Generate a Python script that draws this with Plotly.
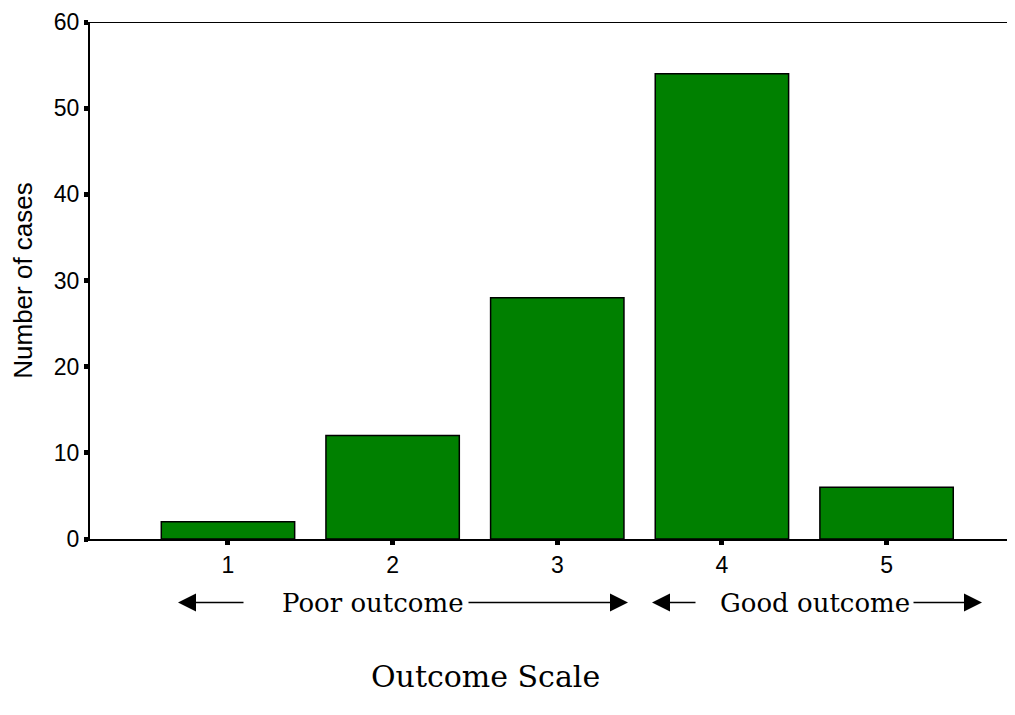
import plotly.graph_objects as go

categories = [1, 2, 3, 4, 5]
cases = [2, 12, 28, 54, 6]
y_ticks = [0, 10, 20, 30, 40, 50, 60]

serif = "Century Schoolbook, DejaVu Serif, serif"
sans = "Arial, Liberation Sans, sans-serif"

fig = go.Figure(go.Bar(
    x=categories, y=cases, width=0.81,
    marker=dict(color="#008000", line=dict(color="black", width=1.5)),
))

# page has an 8px body margin, so the figure is 8px smaller and shifted
fig.update_layout(
    width=1007, height=707,
    margin=dict(l=82, r=0, t=14, b=176),
    plot_bgcolor="white", paper_bgcolor="white",
    showlegend=False,
    xaxis=dict(range=[0.162, 5.78], tickvals=categories, ticks="outside",
               ticklen=4, tickwidth=5, tickcolor="black", automargin=False,
               showline=True, linecolor="black", linewidth=2,
               showgrid=False, zeroline=False,
               tickfont=dict(family=sans, size=23, color="black")),
    yaxis=dict(range=[0, 60], tickvals=y_ticks, ticks="outside",
               ticklen=4, tickwidth=5, tickcolor="black", automargin=False,
               showline=True, linecolor="black", linewidth=2,
               showgrid=False, zeroline=False,
               tickfont=dict(family=sans, size=23, color="black"),
               title=dict(text="Number of cases", standoff=20,
                          font=dict(family=sans, size=26, color="black"))),
)

fig.add_shape(type="line", xref="paper", yref="y", x0=0, x1=1, y0=60, y1=60,
              line=dict(color="black", width=2))

arrow_y = -0.123
labels = [("Poor outcome", 373, 178, 245, 467, 628),
          ("Good outcome", 815, 652, 697, 912, 982)]
for text, cx, lhead, ltail, rtail, rhead in labels:
    fig.add_annotation(xref="paper", yref="paper", x=(cx - 90) / 925, y=arrow_y,
                       xanchor="center", yanchor="middle",
                       text=text, showarrow=False,
                       font=dict(family=serif, size=26, color="black"))
    fig.add_annotation(xref="paper", yref="paper", x=(lhead - 90) / 925, y=arrow_y,
                       ax=ltail - lhead, ay=0, showarrow=True, arrowhead=2,
                       arrowsize=2.4, arrowwidth=1.5, arrowcolor="black", text="")
    fig.add_annotation(xref="paper", yref="paper", x=(rhead - 90) / 925, y=arrow_y,
                       ax=rtail - rhead, ay=0, showarrow=True, arrowhead=2,
                       arrowsize=2.4, arrowwidth=1.5, arrowcolor="black", text="")

fig.add_annotation(xref="paper", yref="paper", x=(485 - 90) / 925, y=-0.265,
                   xanchor="center", yanchor="middle",
                   text="Outcome Scale", showarrow=False,
                   font=dict(family=serif, size=30, color="black"))

fig.write_html("out.html")
